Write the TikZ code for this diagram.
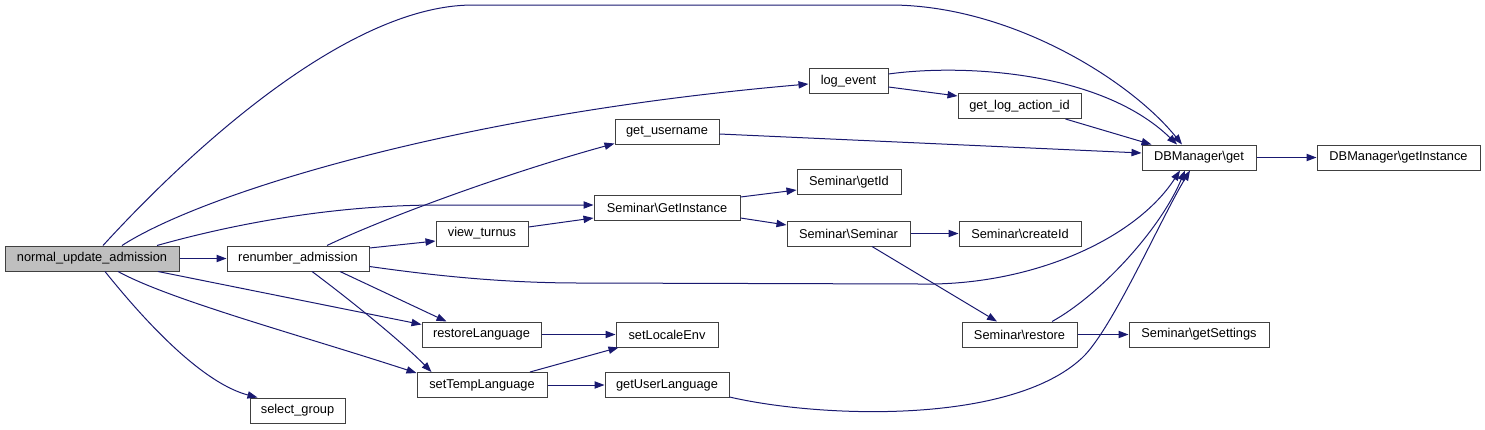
\documentclass[tikz,border=0pt]{standalone}
\usepackage{fontspec}
\setmainfont{Liberation Sans}
\usetikzlibrary{arrows.meta,calc}
\definecolor{edgeblue}{HTML}{191970}
\definecolor{boxline}{HTML}{404040}
\definecolor{mainfill}{HTML}{BFBFBF}
\tikzset{
  box/.style={draw=boxline, line width=0.75pt, minimum height=18.75pt, inner sep=0pt,
    font=\fontsize{9.6}{11}\selectfont, text=black, minimum width=#1*0.75pt},
  link/.style={draw=edgeblue, line width=0.75pt, -{Triangle[length=7.5pt,width=5.5pt]}, edgeblue},
}
\begin{document}
\begin{tikzpicture}[x=0.75pt,y=-0.75pt]
\useasboundingbox (0,0) rectangle (1485,429);
% nodes
\node[box=174, fill=mainfill] (nua) at (92,258.5) {normal\_update\_admission};
\node[box=142] (ren) at (298,258.5) {renumber\_admission};
\node[box=95] (sel) at (297.5,410.5) {select\_group};
\node[box=104] (gun) at (667,131.5) {get\_username};
\node[box=79] (log) at (848.5,81) {log\_event};
\node[box=123] (gla) at (1019.5,106) {get\_log\_action\_id};
\node[box=146] (sgi) at (667,207.5) {Seminar\textbackslash GetInstance};
\node[box=104] (sgid) at (849,182) {Seminar\textbackslash getId};
\node[box=123] (sse) at (848.5,233.5) {Seminar\textbackslash Seminar};
\node[box=122] (scid) at (1020,233.5) {Seminar\textbackslash createId};
\node[box=114] (dbg) at (1199,157.5) {DBManager\textbackslash get};
\node[box=163] (dbgi) at (1398.5,157.5) {DBManager\textbackslash getInstance};
\node[box=115] (sre) at (1019.5,334.5) {Seminar\textbackslash restore};
\node[box=140] (sgs) at (1199,334.5) {Seminar\textbackslash getSettings};
\node[box=92] (vtu) at (482,233.5) {view\_turnus};
\node[box=119] (rla) at (481.5,334.5) {restoreLanguage};
\node[box=102] (sle) at (667,334.5) {setLocaleEnv};
\node[box=130] (stl) at (482,385) {setTempLanguage};
\node[box=124] (gul) at (667,385) {getUserLanguage};
% edges from normal_update_admission
\draw[link] ($(nua.north)+(11,0)$) .. controls (195,145) and (350,5) .. (473,5) -- (890,5)
   .. controls (1010,5) and (1130,80) .. ($(dbg.north)+(-17,0)$);
\draw[link] ($(nua.north)+(30,0)$) .. controls (200,195) and (450,115) .. ($(log.west)+(0,3)$);
\draw[link] ($(nua.north)+(65,0)$) .. controls (230,225) and (330,205) .. (440,205) -- ($(sgi.west)+(0,-2.5)$);
\draw[link] (nua) -- (ren);
\draw[link] ($(nua.south)+(66,0)$) -- ($(rla.west)+(0,-10)$);
\draw[link] ($(nua.south)+(26,0)$) .. controls (170,300) and (300,335) .. ($(stl.north west)+(0,1)$);
\draw[link] ($(nua.south)+(13,0)$) .. controls (160,340) and (210,385) .. ($(sel.north west)+(8,0)$);
% edges from renumber_admission
\draw[link] ($(ren.north)+(29,0)$) .. controls (380,220) and (500,175) .. ($(gun.south west)+(0,-1)$);
\draw[link] ($(ren.east)+(0,-10.5)$) -- ($(vtu.west)+(0,7.5)$);
\draw[link] ($(ren.east)+(0,8)$) .. controls (430,275) and (500,283) .. (580,283) -- (920,284)
   .. controls (1030,286) and (1135,240) .. ($(dbg.south)+(-19,0)$);
\draw[link] ($(ren.south)+(42,0)$) -- ($(rla.north)+(-35,0)$);
\draw[link] ($(ren.south)+(14,0)$) .. controls (345,296) and (400,340) .. ($(stl.north west)+(15,0)$);
% other edges
\draw[link] ($(vtu.east)+(0,-6.5)$) -- ($(sgi.west)+(0,10.5)$);
\draw[link] ($(sgi.east)+(0,-10.5)$) -- ($(sgid.west)+(0,8)$);
\draw[link] ($(sgi.east)+(0,10.5)$) -- ($(sse.west)+(0,-8.5)$);
\draw[link] (sse) -- (scid);
\draw[link] ($(sse.south)+(23.5,0)$) -- ($(sre.north)+(-22.5,0)$);
\draw[link] (sre) -- (sgs);
\draw[link] ($(sre.north)+(32.5,0)$) .. controls (1100,295) and (1160,230) .. ($(dbg.south)+(-14,0)$);
\draw[link] ($(gul.south east)+(0,-1)$) .. controls (820,418) and (1010,425) .. (1082,358)
   .. controls (1112,330) and (1160,220) .. ($(dbg.south)+(-9,0)$);
\draw[link] ($(log.east)+(0,6)$) -- ($(gla.west)+(0,-10)$);
\draw[link] ($(log.east)+(0,-7)$) .. controls (960,64) and (1100,70) .. ($(dbg.north)+(-22,0)$);
\draw[link] ($(gla.south)+(46,0)$) -- ($(dbg.north west)+(10,0)$);
\draw[link] ($(gun.east)+(0,2.5)$) -- ($(dbg.west)+(0,-4.5)$);
\draw[link] (dbg) -- (dbgi);
\draw[link] (rla) -- (sle);
\draw[link] ($(stl.north)+(48,0)$) -- ($(sle.south west)+(3,0)$);
\draw[link] (stl) -- (gul);
\end{tikzpicture}
\end{document}
